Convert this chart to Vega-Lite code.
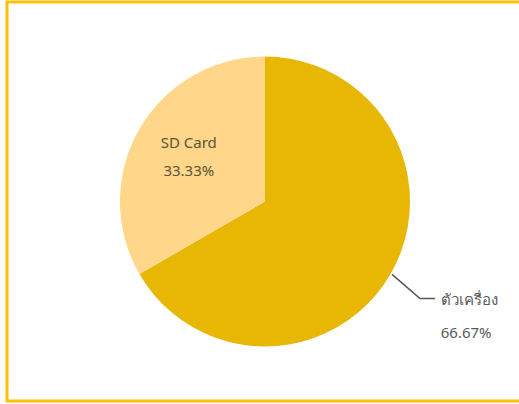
{
  "$schema": "https://vega.github.io/schema/vega-lite/v6.json",
  "width": 519,
  "height": 404,
  "autosize": {"type": "fit", "contains": "padding"},
  "padding": {"left": 7, "top": 2, "right": -4, "bottom": 3},
  "background": "white",
  "config": {"view": {"stroke": "#FFC000", "strokeWidth": 3}},
  "datasets": {
    "slices": [
      {"part": "ตัวเครื่อง", "value": 66.67, "label": "66.67%"},
      {"part": "SD Card", "value": 33.33, "label": "33.33%"}
    ],
    "leader": [
      {"seq": 1, "x": 0.876, "y": -0.503},
      {"seq": 2, "x": 1.069, "y": -0.669},
      {"seq": 3, "x": 1.172, "y": -0.669}
    ]
  },
  "layer": [
    {
      "data": {"name": "slices"},
      "mark": {"type": "arc", "outerRadius": 145},
      "encoding": {
        "theta": {"field": "value", "type": "quantitative", "stack": true},
        "order": {"field": "value", "sort": "descending"},
        "color": {
          "field": "part",
          "type": "nominal",
          "scale": {"domain": ["ตัวเครื่อง", "SD Card"], "range": ["#E8B703", "#FFD68A"]},
          "legend": null
        }
      }
    },
    {
      "data": {"name": "slices"},
      "mark": {"type": "text", "radius": 88, "dy": -14, "fontSize": 15, "font": "Noto Sans", "fill": "#5b5237"},
      "encoding": {
        "theta": {"field": "value", "type": "quantitative", "stack": true},
        "order": {"field": "value", "sort": "descending"},
        "text": {"condition": {"test": "datum.part === 'SD Card'", "field": "part"}, "value": ""}
      }
    },
    {
      "data": {"name": "slices"},
      "mark": {"type": "text", "radius": 88, "dy": 14, "fontSize": 15, "font": "Noto Sans", "fill": "#5b5237"},
      "encoding": {
        "theta": {"field": "value", "type": "quantitative", "stack": true},
        "order": {"field": "value", "sort": "descending"},
        "text": {"condition": {"test": "datum.part === 'SD Card'", "field": "label"}, "value": ""}
      }
    },
    {
      "data": {"name": "slices"},
      "mark": {"type": "text", "radius": 196, "dx": 6, "align": "left", "fontSize": 15, "font": "Noto Sans", "fill": "#595959"},
      "encoding": {
        "theta": {"field": "value", "type": "quantitative", "stack": true},
        "order": {"field": "value", "sort": "descending"},
        "text": {"condition": {"test": "datum.part !== 'SD Card'", "field": "part"}, "value": ""}
      }
    },
    {
      "data": {"name": "slices"},
      "mark": {"type": "text", "radius": 196, "dx": 6, "dy": 33, "align": "left", "fontSize": 15, "font": "Noto Sans", "fill": "#595959"},
      "encoding": {
        "theta": {"field": "value", "type": "quantitative", "stack": true},
        "order": {"field": "value", "sort": "descending"},
        "text": {"condition": {"test": "datum.part !== 'SD Card'", "field": "label"}, "value": ""}
      }
    },
    {
      "data": {"name": "leader"},
      "mark": {"type": "line", "color": "#555555", "strokeWidth": 1.5},
      "encoding": {
        "x": {"field": "x", "type": "quantitative", "scale": {"domain": [-1.7793, 1.7793], "nice": false, "zero": false}, "axis": null},
        "y": {"field": "y", "type": "quantitative", "scale": {"domain": [-1.3759, 1.3759], "nice": false, "zero": false}, "axis": null},
        "order": {"field": "seq"}
      }
    }
  ]
}
